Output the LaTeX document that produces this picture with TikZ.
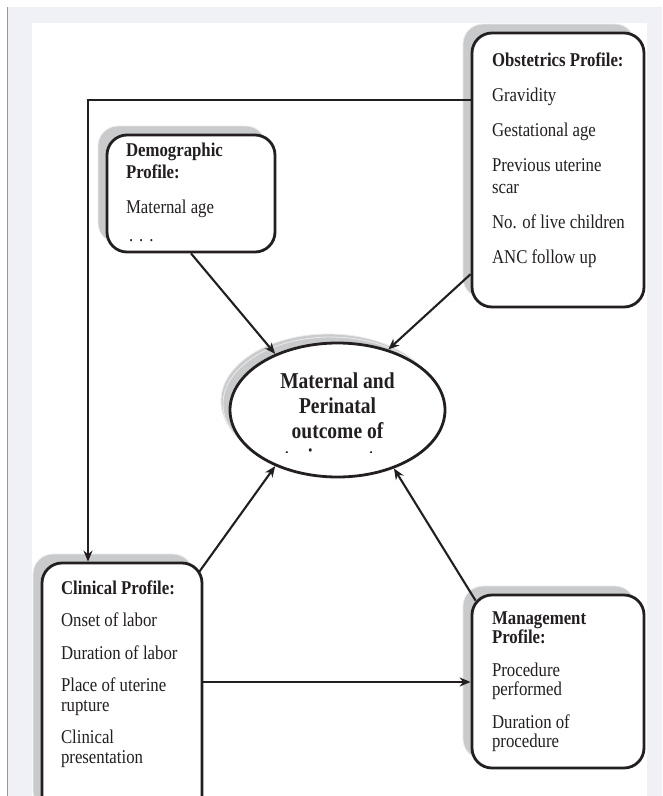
\documentclass[tikz,border=0pt]{standalone}
\usepackage{fontspec}
\setmainfont{Liberation Serif}[FakeStretch=0.86]
\usetikzlibrary{shapes.geometric,shadows,arrows.meta}
\definecolor{ink}{HTML}{231F20}
\definecolor{pagegray}{HTML}{F0F1F6}
\definecolor{shade}{HTML}{C9CACC}

\begin{document}
\begin{tikzpicture}[x=1pt,y=-1pt,line width=2.1pt,
    >={Stealth[length=11pt,width=9pt]},
    profile/.style={draw=ink,fill=white,line width=2.8pt,rounded corners=20pt,
      inner sep=0pt,
      drop shadow={shadow xshift=-9pt,shadow yshift=9pt,opacity=1,
        fill=shade,draw=black!8,line width=0.8pt}},
    txt/.style={inner sep=0pt,align=left,text=ink,anchor=base west},
    outcome/.style={inner sep=0pt,align=center,text=ink,anchor=base,
      font=\fontsize{22.7}{25}\selectfont\bfseries}]
  \clip (0,0) rectangle (662,796);
  % page
  \fill[pagegray] (7,7) rectangle (662,796);
  \draw[black!40,line width=1pt] (7,7) -- (7,796);
  \fill[white] (32,23) rectangle (647,796);

  % profiles
  \node[profile,minimum width=172,minimum height=274] (obs) at (558,170) {};
  \node[profile,minimum width=168,minimum height=117] (dem) at (191,193.5) {};
  \node[profile,minimum width=160,minimum height=257] (cli) at (122,691.5) {};
  \node[profile,minimum width=172,minimum height=173] (man) at (558,681.5) {};
  \node[profile,ellipse,minimum width=215,minimum height=134,
    drop shadow={shadow xshift=-7pt,shadow yshift=6pt,opacity=1,
      fill=shade,draw=black!8,line width=0.8pt}] (ell) at (337.5,410) {};

  % texts, placed by the baseline of their last line
  \node[txt,font=\fontsize{19.5}{22}\selectfont] (obsT) at (491,263)
    {\textbf{Obstetrics Profile:}\\[13pt] Gravidity\\[13pt] Gestational age\\[13pt]
     Previous uterine\\ scar\\[13pt] No. of live children\\[13pt] ANC follow up};
  \node[txt,font=\fontsize{19.5}{22}\selectfont] (demT) at (125,241)
    {\textbf{Demographic}\\ \textbf{Profile:}\\[13pt] Maternal age\\[6pt]
     \hspace*{3pt}.\hspace{6pt}.\hspace{6pt}.};
  \node[txt,font=\fontsize{19.5}{19.5}\selectfont] (cliT) at (60,763)
    {\textbf{Clinical Profile:}\\[13pt] Onset of labor\\[13pt] Duration of labor\\[13pt]
     Place of uterine\\ rupture\\[13pt] Clinical\\ presentation};
  \node[txt,font=\fontsize{19.5}{18.5}\selectfont] (manT) at (491,747)
    {\textbf{Management}\\ \textbf{Profile:}\\[15pt] Procedure\\ performed\\[15pt]
     Duration of\\ procedure};

  \node[outcome] (ellT) at (337.5,438) {Maternal and\\ Perinatal\\ outcome of};
  \begin{scope}
    \clip (240,440) rectangle (440,452);
    \node[outcome] (ellR) at (337.5,464.5) {uterine rupture};
  \end{scope}

  % connectors
  \coordinate (turn) at (88,100);
  \draw[->,draw=ink] (obs.west |- turn) -- (turn) -- (turn |- cli.north);
  \draw[->,draw=ink] (dem.south) -- (ell.138.8);
  \draw[->,draw=ink] (obs.230) -- (ell.50.5);
  \draw[->,draw=ink] ([shift={(-4,10)}]cli.north east) -- (ell.222);
  \draw[->,draw=ink] ([shift={(5,7)}]man.north west) -- (ell.-46);
  \draw[->,draw=ink] (cli.east |- 0,682) -- (man.west |- 0,682);
\end{tikzpicture}
\end{document}
